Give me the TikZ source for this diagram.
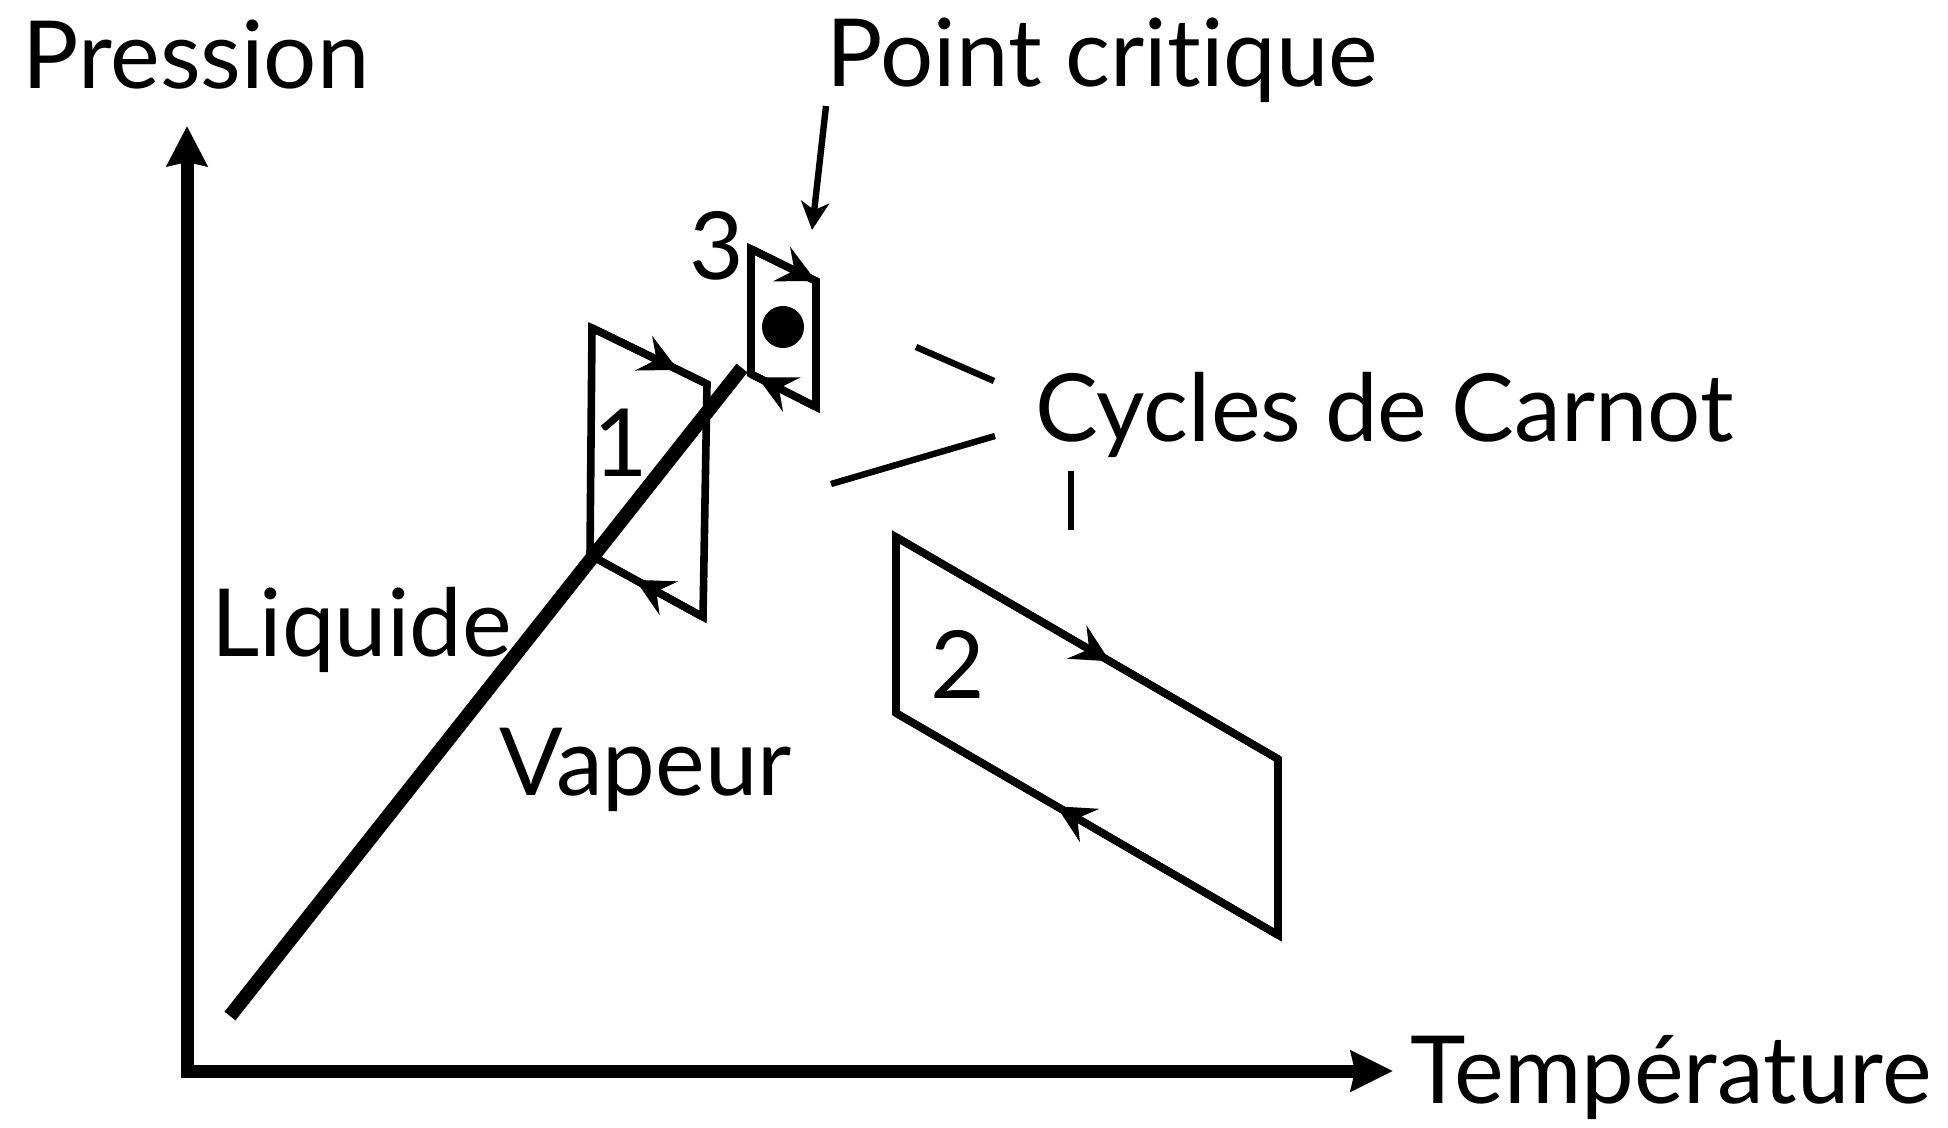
\documentclass[tikz,border=0pt]{standalone}
\usepackage{fontspec}
\setmainfont{Lato}[Ligatures=NoCommon]
\usetikzlibrary{arrows.meta,decorations.markings}
\begin{document}
\begin{tikzpicture}[x=0.5pt,y=-0.5pt,
  lbl/.style={inner sep=0pt, font=\fontsize{47}{50}\selectfont},
  axisline/.style={line width=6.5pt, line join=miter,
    {Stealth[length=20pt,width=20pt,inset=2pt]}-{Stealth[length=21pt,width=20pt,inset=2pt]}},
  curve/.style={line width=7pt},
  cyc/.style={line width=3.8pt, line join=miter},
  ptr/.style={line width=3.2pt},
  tipat/.style={postaction={decorate}, decoration={markings,
    mark=at position #1 with {\arrow{Stealth[length=19pt,width=19pt,inset=7pt]}}}}
]
\useasboundingbox (0,0) rectangle (1948,1128);

% axes
\coordinate (ytip) at (187,126);
\coordinate (origin) at (187,1071);
\coordinate (xtip) at (1393,1071);
\draw[axisline] (ytip) -- (origin) -- (xtip);

% coexistence curve
\coordinate (cA) at (230,1016);
\coordinate (cB) at (742,368);
\draw[curve] (cA) -- (cB);

% cycle 1
\coordinate (a1) at (592,328);
\coordinate (b1) at (707,384);
\coordinate (c1) at (703,617);
\coordinate (d1) at (590,555);
\draw[cyc] (a1) -- (b1) -- (c1) -- (d1) -- cycle;
\draw[cyc, tipat=0.75] (a1) -- (b1);
\draw[cyc, tipat=0.6] (c1) -- (d1);

% cycle 2
\coordinate (a2) at (896,537);
\coordinate (b2) at (1278,759);
\coordinate (c2) at (1278,935);
\coordinate (d2) at (896,713);
\draw[cyc] (a2) -- (b2) -- (c2) -- (d2) -- cycle;
\draw[cyc, tipat=0.56] (a2) -- (b2);
\draw[cyc, tipat=0.58] (c2) -- (d2);

% cycle 3
\coordinate (a3) at (751,249);
\coordinate (b3) at (816,281);
\coordinate (c3) at (816,407);
\coordinate (d3) at (751,374);
\draw[cyc] (a3) -- (b3) -- (c3) -- (d3) -- cycle;
\draw[cyc, tipat=1] (a3) -- (b3);
\draw[cyc, tipat=0.9] (c3) -- (d3);

% critical point
\node[circle, fill, inner sep=0pt, minimum size=21pt] (cp) at (783,327) {};

% labels
\node[lbl, anchor=base west] (pression) at (22,89) {Pression};
\node[lbl, anchor=base west] (pc) at (826,87) {Point critique};
\node[lbl, anchor=base] (n3) at (717,280) {3};
\node[lbl, anchor=base west] (cdc) at (1035,441) {Cycles de Carnot};
\node[lbl, anchor=base] (n1) at (621,476) {1};
\node[lbl, anchor=base west] (liq) at (211,656) {Liquide};
\node[lbl, anchor=base] (n2) at (958,698) {2};
\node[lbl, anchor=base west] (vap) at (499,795) {Vapeur};
\node[lbl, anchor=base west] (temp) at (1410,1103) {Température};

% pointer to critical point
\coordinate (pcs) at (826,106);
\coordinate (pce) at (812,230);
\draw[ptr, -{Stealth[length=14pt,width=14pt,inset=4pt]}] (pcs) -- (pce);

% pointers from "Cycles de Carnot"
\coordinate (p1s) at (994,381);
\coordinate (p1e) at (916,347);
\coordinate (p2s) at (995,436);
\coordinate (p2e) at (831,484);
\coordinate (p3s) at (1071,471);
\coordinate (p3e) at (1071,530);
\draw[ptr] (p1s) -- (p1e);
\draw[ptr] (p2s) -- (p2e);
\draw[ptr] (p3s) -- (p3e);
\end{tikzpicture}
\end{document}
